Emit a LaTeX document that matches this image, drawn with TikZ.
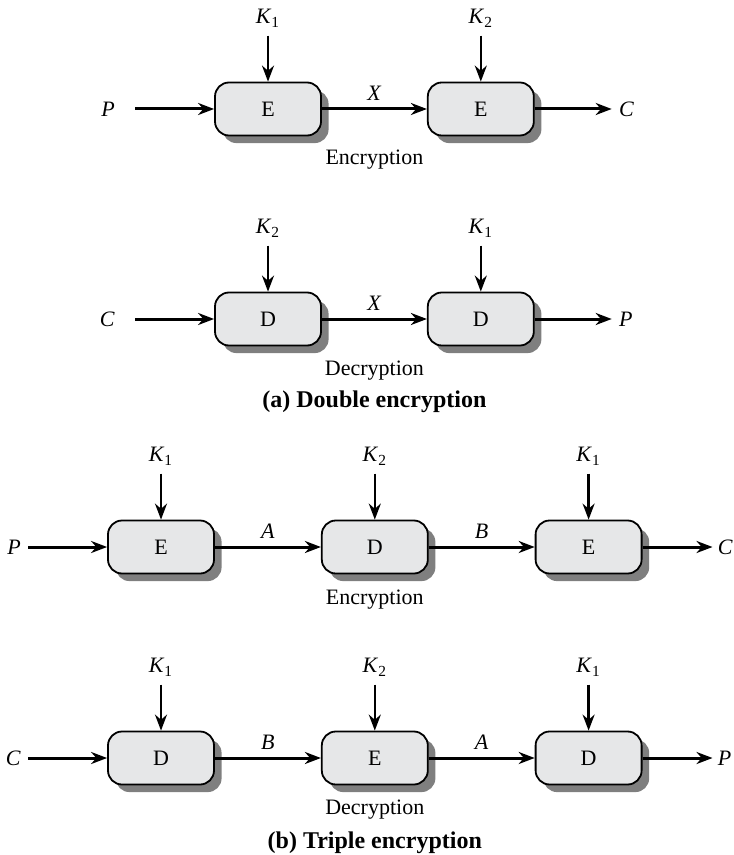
\documentclass[tikz,border=0pt]{standalone}
\usepackage{fontspec}
\setmainfont{Liberation Serif}
\usetikzlibrary{positioning,calc,arrows.meta,shadows}
\definecolor{boxfill}{HTML}{E6E7E8}
\definecolor{boxshade}{HTML}{7F7F7F}

\begin{document}
\begin{tikzpicture}[
  font=\fontsize{11}{13}\selectfont,
  box/.style={draw, rounded corners=7pt, fill=boxfill, line width=0.9pt, minimum width=53pt, minimum height=26.5pt, inner sep=0pt, drop shadow={shadow xshift=3.8pt, shadow yshift=-3.8pt, fill=boxshade, opacity=1}},
  lbl/.style={inner xsep=3.5pt, inner ysep=4pt},
  captxt/.style={inner sep=1pt},
  ttl/.style={font=\fontsize{12}{14}\selectfont\bfseries, inner sep=1pt},
  flow/.style={-{Stealth[length=8pt,width=6pt]}, line width=1.5pt},
  keyin/.style={flow, line width=1.2pt}
]
\useasboundingbox (0,0) rectangle (366.5pt,-427.5pt);
% (a) Double encryption: encryption row
\node[box] (ea1) at (134pt,-54.5pt) {E};
\node[box, right=52.5pt of ea1] (ea2) {E};
\node[lbl, above=23pt of ea1] (ka1) {\textit{K}\textsubscript{1}};
\node[lbl, above=23pt of ea2] (ka2) {\textit{K}\textsubscript{2}};
\node[lbl, left=46pt of ea1] (pa) {\textit{P}};
\node[lbl, right=38.5pt of ea2] (ca) {\textit{C}};
\node[captxt] (enca) at ($(ea1)!.5!(ea2)+(0,-25.5pt)$) {Encryption};
\draw[flow, shorten <=6.5pt] (pa) -- (ea1);
\draw[flow] (ea1) -- node[above]{\textit{X}} (ea2);
\draw[flow] (ea2) -- (ca);
\draw[keyin] (ka1) -- (ea1);
\draw[keyin] (ka2) -- (ea2);
% (a) Double encryption: decryption row
\node[box] (da1) at (134pt,-159.5pt) {D};
\node[box, right=52.5pt of da1] (da2) {D};
\node[lbl, above=23pt of da1] (kd1) {\textit{K}\textsubscript{2}};
\node[lbl, above=23pt of da2] (kd2) {\textit{K}\textsubscript{1}};
\node[lbl, left=46pt of da1] (cd) {\textit{C}};
\node[lbl, right=38.5pt of da2] (pd) {\textit{P}};
\node[captxt] (deca) at ($(da1)!.5!(da2)+(0,-26pt)$) {Decryption};
\node[ttl] (ttla) at ($(deca)+(0,-15.5pt)$) {(a) Double encryption};
\draw[flow, shorten <=6.5pt] (cd) -- (da1);
\draw[flow] (da1) -- node[above]{\textit{X}} (da2);
\draw[flow] (da2) -- (pd);
\draw[keyin] (kd1) -- (da1);
\draw[keyin] (kd2) -- (da2);
% (b) Triple encryption: encryption row
\node[box] (eb1) at (80.5pt,-273.5pt) {E};
\node[box, right=53pt of eb1] (eb2) {D};
\node[box, right=53pt of eb2] (eb3) {E};
\node[lbl, above=23pt of eb1] (kb1) {\textit{K}\textsubscript{1}};
\node[lbl, above=23pt of eb2] (kb2) {\textit{K}\textsubscript{2}};
\node[lbl, above=23pt of eb3] (kb3) {\textit{K}\textsubscript{1}};
\node[lbl, left=39.5pt of eb1] (pb) {\textit{P}};
\node[lbl, inner xsep=2.5pt, right=35pt of eb3] (cb) {\textit{C}};
\node[captxt] (encb) at ($(eb2)+(0,-26.5pt)$) {Encryption};
\draw[flow] (pb) -- (eb1);
\draw[flow] (eb1) -- node[above]{\textit{A}} (eb2);
\draw[flow] (eb2) -- node[above]{\textit{B}} (eb3);
\draw[flow] (eb3) -- (cb);
\foreach \i in {1,2,3} \draw[keyin] (kb\i) -- (eb\i);
% (b) Triple encryption: decryption row
\node[box] (db1) at (80.5pt,-379pt) {D};
\node[box, right=53pt of db1] (db2) {E};
\node[box, right=53pt of db2] (db3) {D};
\node[lbl, above=23pt of db1] (kc1) {\textit{K}\textsubscript{1}};
\node[lbl, above=23pt of db2] (kc2) {\textit{K}\textsubscript{2}};
\node[lbl, above=23pt of db3] (kc3) {\textit{K}\textsubscript{1}};
\node[lbl, left=39.5pt of db1] (cc) {\textit{C}};
\node[lbl, inner xsep=2.5pt, right=35pt of db3] (pc) {\textit{P}};
\node[captxt] (decb) at ($(db2)+(0,-26pt)$) {Decryption};
\node[ttl] (ttlb) at ($(decb)+(0,-16.5pt)$) {(b) Triple encryption};
\draw[flow] (cc) -- (db1);
\draw[flow] (db1) -- node[above]{\textit{B}} (db2);
\draw[flow] (db2) -- node[above]{\textit{A}} (db3);
\draw[flow] (db3) -- (pc);
\foreach \i in {1,2,3} \draw[keyin] (kc\i) -- (db\i);
\end{tikzpicture}
\end{document}
